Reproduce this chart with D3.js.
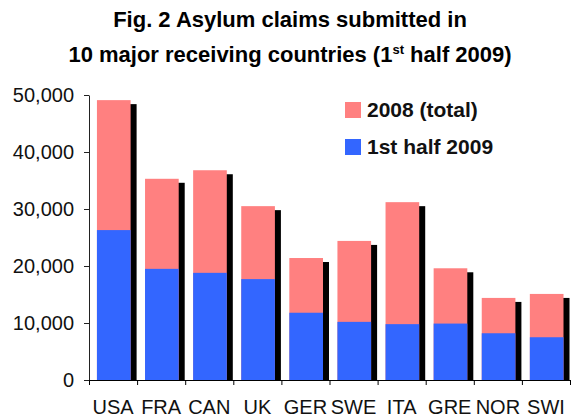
<!DOCTYPE html>
<html>
<head>
<meta charset="utf-8">
<script src="https://cdn.jsdelivr.net/npm/d3@7"></script>
<style>
  body { margin: 0; background: #fff; }
  text { font-family: "Liberation Sans", Arial, sans-serif; }
</style>
</head>
<body>
<div id="chart"></div>
<script>
// data
const countries = ["USA", "FRA", "CAN", "UK", "GER", "SWE", "ITA", "GRE", "NOR", "SWI"];
const total2008 = [49100, 35300, 36800, 30500, 21400, 24400, 31200, 19600, 14400, 15100];
const half2009 = [26300, 19500, 18800, 17700, 11800, 10200, 9800, 9900, 8200, 7500];
const yTicks = [0, 10000, 20000, 30000, 40000, 50000];
const legendLabels = ["2008 (total)", "1st half 2009"];

const W = 571, H = 419;
const plotLeft = 89, plotRight = 570, plotTop = 95, plotBottom = 380;

var svg = d3.select("#chart").append("svg")
    .attr("width", W)
    .attr("height", H);

const x = d3.scaleBand()
    .domain(countries)
    .range([plotLeft, plotRight]);

const y = d3.scaleLinear()
    .domain([0, 50000])
    .range([plotBottom, plotTop]);

const bw = x.bandwidth();
const barX = d => x(d) + bw * 0.165;
const barW = bw * 0.7;

// title
const title = svg.append("text")
    .attr("x", 290)
    .attr("text-anchor", "middle")
    .style("font-size", "22px")
    .style("font-weight", "bold");
title.append("tspan").attr("x", 290).attr("y", 27).text("Fig. 2 Asylum claims submitted in");
const l2 = title.append("tspan").attr("x", 290).attr("y", 62);
l2.append("tspan").text("10 major receiving countries (1");
l2.append("tspan").attr("dy", -8).style("font-size", "13px").text("st");
l2.append("tspan").attr("dy", 8).text(" half 2009)");

// shadows
svg.selectAll("rect.shadow")
    .data(countries)
    .enter()
    .append("rect")
    .attr("class", "shadow")
    .attr("x", d => barX(d) + 6)
    .attr("y", (d, i) => y(total2008[i]) + 4)
    .attr("width", barW)
    .attr("height", (d, i) => plotBottom - y(total2008[i]) - 4)
    .attr("fill", "#000");

svg.selectAll("rect.total")
    .data(countries)
    .enter()
    .append("rect")
    .attr("class", "total")
    .attr("x", d => barX(d))
    .attr("y", (d, i) => y(total2008[i]))
    .attr("width", barW)
    .attr("height", (d, i) => plotBottom - y(total2008[i]))
    .attr("fill", "#FF8080");

svg.selectAll("rect.half")
    .data(countries)
    .enter()
    .append("rect")
    .attr("class", "half")
    .attr("x", d => barX(d))
    .attr("y", (d, i) => y(half2009[i]))
    .attr("width", barW)
    .attr("height", (d, i) => plotBottom - y(half2009[i]))
    .attr("fill", "#3366FF");

// y axis
svg.append("g")
    .attr("transform", `translate(${plotLeft},0)`)
    .call(d3.axisLeft(y).tickValues(yTicks).tickSize(5).tickSizeOuter(0)
        .tickFormat(d3.format(",")))
    .call(g => g.selectAll("line, path").attr("stroke", "#222"))
    .selectAll("text")
    .attr("x", -15)
    .attr("fill", "#111")
    .style("font-size", "20px")
    .style("font-family", "Liberation Sans, Arial, sans-serif");

// x axis: ticks at band edges
const xEdge = d3.scaleLinear().domain([0, countries.length]).range([plotLeft, plotRight]);
svg.append("g")
    .attr("transform", `translate(0,${plotBottom})`)
    .call(d3.axisBottom(xEdge).ticks(countries.length).tickSize(5).tickSizeOuter(0).tickFormat(""))
    .call(g => g.selectAll("line, path").attr("stroke", "#000"));

svg.append("g")
    .attr("transform", `translate(0,${plotBottom})`)
    .call(d3.axisBottom(x).tickSize(0))
    .call(g => g.select(".domain").remove())
    .selectAll("text")
    .attr("y", 20)
    .attr("dy", "0.71em")
    .attr("fill", "#111")
    .style("font-size", "20px")
    .style("font-family", "Liberation Sans, Arial, sans-serif");

// legend
const legendColors = ["#FF8080", "#3366FF"];
const lg = svg.selectAll("g.legend")
    .data(legendLabels)
    .enter()
    .append("g")
    .attr("class", "legend")
    .attr("transform", (d, i) => `translate(345,${102 + i * 37})`);
lg.append("rect")
    .attr("width", 16)
    .attr("height", 16)
    .attr("fill", (d, i) => legendColors[i]);
lg.append("text")
    .attr("x", 22)
    .attr("y", 15)
    .style("font-size", "21px")
    .style("font-weight", "bold")
    .attr("fill", "#111")
    .text(d => d);
</script>
</body>
</html>
